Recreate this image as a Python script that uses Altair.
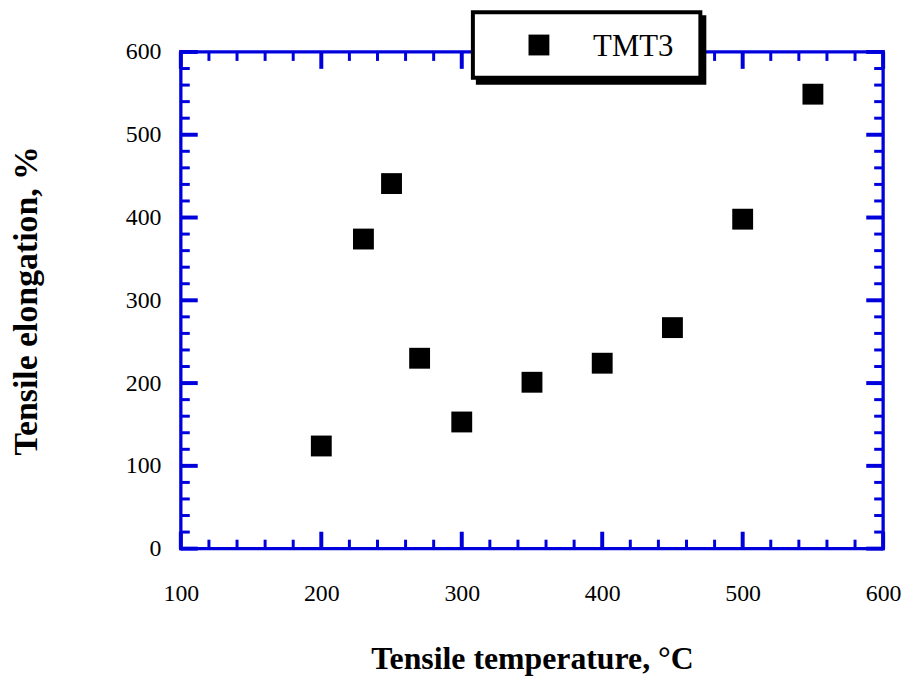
import altair as alt
import pandas as pd

# ---- data ----
temps = [200, 230, 250, 270, 300, 350, 400, 450, 500, 550]
elong = [124, 374, 441, 230, 153, 201, 224, 267, 398, 549]
series_name = "TMT3"

x_major = [100, 200, 300, 400, 500, 600]
x_minor = [v for v in range(120, 600, 20) if v % 100]
y_major = [0, 100, 200, 300, 400, 500, 600]
y_minor = [v for v in range(20, 600, 20) if v % 100]

W, H = 707, 500
BLUE = "#0000dd"
FONT = "Liberation Serif"
MAJ, MIN = 17, 9

xs = alt.Scale(domain=[100, 600], nice=False, zero=False)
ys = alt.Scale(domain=[0, 600], nice=False, zero=False)

xax = alt.Axis(values=x_major, format="d", domain=False, ticks=False, tickSize=0, grid=False,
               labelFlush=False, labelPadding=33,
               title="Tensile temperature, \u00b0C", titleFontSize=32, titlePadding=39)
yax = alt.Axis(values=y_major, format="d", domain=False, ticks=False, tickSize=0, grid=False,
               labelFlush=False, labelPadding=20,
               title="Tensile elongation, %", titleFontSize=34, titlePadding=82)

X = lambda f: alt.X(f, scale=xs, axis=xax)
Y = lambda f: alt.Y(f, scale=ys, axis=yax)

layers = []

# frame
layers.append(alt.Chart(pd.DataFrame({"y": [0, 600]})).mark_rule(
    color=BLUE, strokeWidth=3.3, strokeCap="square").encode(
    y=Y("y:Q"), x=alt.value(0), x2=alt.value(W)))
layers.append(alt.Chart(pd.DataFrame({"x": [100, 600]})).mark_rule(
    color=BLUE, strokeWidth=3.3, strokeCap="square").encode(
    x=X("x:Q"), y=alt.value(0), y2=alt.value(H)))

# inward ticks on all four sides
for vals, L, w in [(x_major, MAJ, 4), (x_minor, MIN, 3)]:
    df = pd.DataFrame({"v": vals})
    layers.append(alt.Chart(df).mark_rule(color=BLUE, strokeWidth=w).encode(
        x=X("v:Q"), y=alt.value(H), y2=alt.value(H - L)))
    layers.append(alt.Chart(df).mark_rule(color=BLUE, strokeWidth=w).encode(
        x=X("v:Q"), y=alt.value(0), y2=alt.value(L)))
for vals, L, w in [(y_major, MAJ, 4), (y_minor, MIN, 3)]:
    df = pd.DataFrame({"v": vals})
    layers.append(alt.Chart(df).mark_rule(color=BLUE, strokeWidth=w).encode(
        y=Y("v:Q"), x=alt.value(0), x2=alt.value(L)))
    layers.append(alt.Chart(df).mark_rule(color=BLUE, strokeWidth=w).encode(
        y=Y("v:Q"), x=alt.value(W), x2=alt.value(W - L)))

# data points
layers.append(alt.Chart(pd.DataFrame({"t": temps, "e": elong})).mark_square(
    size=441, color="black", opacity=1).encode(x=X("t:Q"), y=Y("e:Q")))

# legend box with drop shadow
one = pd.DataFrame({"k": [0]})
layers.append(alt.Chart(one).mark_rect(color="black").encode(
    x=alt.value(297), x2=alt.value(529), y=alt.value(-37), y2=alt.value(33)))
layers.append(alt.Chart(one).mark_rect(fill="white", stroke="black", strokeWidth=4).encode(
    x=alt.value(294), x2=alt.value(523), y=alt.value(-40), y2=alt.value(26)))
layers.append(alt.Chart(one).mark_square(size=441, color="black", opacity=1).encode(
    x=alt.value(360.5), y=alt.value(-7)))
layers.append(alt.Chart(one).mark_text(text=series_name, font=FONT, fontSize=31, align="left",
                                       baseline="alphabetic", color="black").encode(
    x=alt.value(415), y=alt.value(4)))

chart = alt.layer(*layers).properties(
    width=W, height=H,
    padding={"left": 174, "top": 42, "right": 20, "bottom": 132},
    autosize=alt.AutoSizeParams(type="none"),
).configure_view(stroke=None).configure_axis(
    labelFont=FONT, labelFontSize=24, labelColor="black",
    titleFont=FONT, titleFontWeight="bold", titleColor="black",
)

chart.save("out.html", embed_options={"renderer": "svg", "actions": False})
